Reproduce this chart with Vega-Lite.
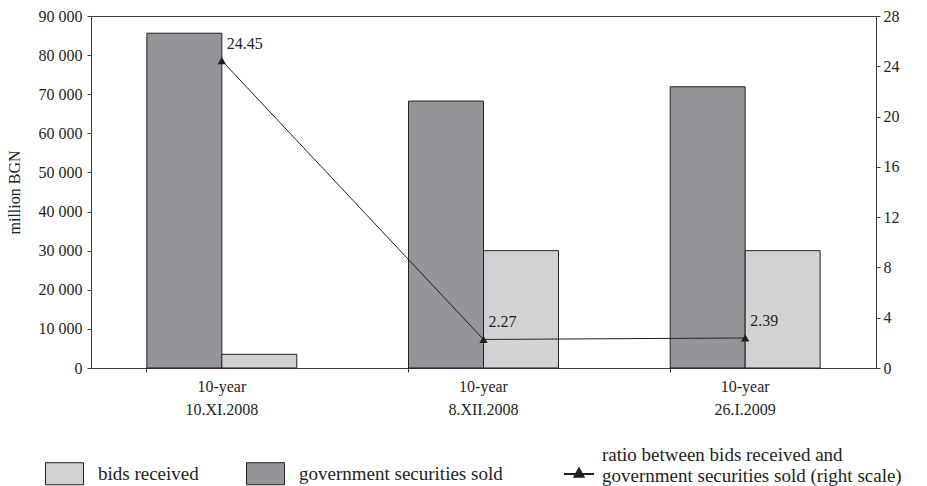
{
  "$schema": "https://vega.github.io/schema/vega-lite/v6.json",
  "width": 785,
  "height": 352,
  "autosize": {"type": "none"},
  "padding": {"left": 91, "top": 16, "right": 51, "bottom": 118},
  "background": "white",
  "config": {
    "font": "Liberation Serif",
    "view": {"stroke": "#3c3c3c", "strokeWidth": 1},
    "axis": {
      "labelFont": "Liberation Serif",
      "labelFontSize": 16,
      "labelColor": "#231f20",
      "domainColor": "#3c3c3c",
      "tickColor": "#3c3c3c",
      "grid": false,
      "titleFont": "Liberation Serif",
      "titleFontWeight": "normal",
      "titleFontSize": 16,
      "titleColor": "#231f20"
    },
    "legend": {
      "padding": 0,
      "labelFont": "Liberation Serif",
      "labelFontSize": 19,
      "labelColor": "#231f20",
      "labelLimit": 500
    }
  },
  "datasets": {
    "auctions": [
      {"auction": "10-year 10.XI.2008", "series": "government securities sold", "value": 85600},
      {"auction": "10-year 10.XI.2008", "series": "bids received", "value": 3500},
      {"auction": "10-year 8.XII.2008", "series": "government securities sold", "value": 68250},
      {"auction": "10-year 8.XII.2008", "series": "bids received", "value": 30000},
      {"auction": "10-year 26.I.2009", "series": "government securities sold", "value": 71900},
      {"auction": "10-year 26.I.2009", "series": "bids received", "value": 30000}
    ],
    "ratios": [
      {"auction": "10-year 10.XI.2008", "series": "ratio between bids received and government securities sold (right scale)", "ratio": 24.45},
      {"auction": "10-year 8.XII.2008", "series": "ratio between bids received and government securities sold (right scale)", "ratio": 2.27},
      {"auction": "10-year 26.I.2009", "series": "ratio between bids received and government securities sold (right scale)", "ratio": 2.39}
    ]
  },
  "layer": [
    {
      "data": {"name": "auctions"},
      "mark": {"type": "bar", "stroke": "#231f20", "strokeWidth": 1},
      "encoding": {
        "x": {
          "field": "auction",
          "type": "nominal",
          "sort": null,
          "scale": {"paddingInner": 0.427, "paddingOuter": 0.2135},
          "axis": {
            "title": null,
            "labelAngle": 0,
            "labelExpr": "split(datum.label, ' ')",
            "labelLineHeight": 23,
            "labelPadding": 6,
            "bandPosition": 0,
            "tickSize": 4
          }
        },
        "xOffset": {
          "field": "series",
          "type": "nominal",
          "scale": {"domain": ["government securities sold", "bids received"], "paddingInner": 0, "paddingOuter": 0}
        },
        "y": {
          "field": "value",
          "type": "quantitative",
          "scale": {"domain": [0, 90000]},
          "axis": {
            "title": "million BGN",
            "values": [0, 10000, 20000, 30000, 40000, 50000, 60000, 70000, 80000, 90000],
            "labelExpr": "replace(format(datum.value, ','), ',', ' ')",
            "tickSize": 4,
            "labelPadding": 5,
            "titleX": -69,
            "titleY": 176,
            "titleAngle": -90,
            "titleAlign": "center",
            "titleBaseline": "bottom"
          }
        },
        "fill": {
          "field": "series",
          "type": "nominal",
          "scale": {"domain": ["bids received", "government securities sold"], "range": ["#d1d2d4", "#939598"]},
          "legend": {
            "title": null,
            "orient": "none",
            "legendX": -46,
            "legendY": 438,
            "direction": "horizontal",
            "symbolType": "M-1,-0.58H1V0.58H-1Z",
            "symbolSize": 1444,
            "symbolStrokeColor": "#231f20",
            "symbolStrokeWidth": 1,
            "labelOffset": 14,
            "columnPadding": 45,
            "encode": {"symbols": {"update": {"stroke": {"value": "#231f20"}, "strokeWidth": {"value": 1}}}}
          }
        }
      }
    },
    {
      "data": {"name": "ratios"},
      "encoding": {
        "x": {"field": "auction", "type": "nominal", "sort": null},
        "y": {
          "field": "ratio",
          "type": "quantitative",
          "scale": {"domain": [0, 28]},
          "axis": {
            "orient": "right",
            "title": null,
            "values": [0, 4, 8, 12, 16, 20, 24, 28],
            "tickSize": 4,
            "labelPadding": 3
          }
        }
      },
      "layer": [
        {
          "mark": {"type": "line", "strokeWidth": 1},
          "encoding": {
            "stroke": {
              "field": "series",
              "type": "nominal",
              "scale": {"range": ["#231f20"]},
              "legend": {
                "title": null,
                "orient": "none",
                "legendX": 472,
                "legendY": 442,
                "symbolType": "M-1,0H1M-0.3,0.18L0,-0.36L0.3,0.18Z",
                "symbolSize": 900,
                "symbolStrokeWidth": 2,
                "symbolFillColor": "#231f20",
                "labelOffset": 7,
                "labelLineHeight": 20,
                "labelExpr": "[slice(datum.label, 0, 31), slice(datum.label, 32)]",
                "encode": {
                  "symbols": {"update": {"fill": {"value": "#231f20"}, "stroke": {"value": "#231f20"}, "strokeWidth": {"value": 2}}},
                  "labels": {"update": {"dy": {"value": -19}}}
                }
              }
            }
          }
        },
        {
          "mark": {"type": "point", "shape": "triangle-up", "filled": true, "size": 70, "color": "#231f20", "opacity": 1}
        },
        {
          "mark": {"type": "text", "align": "left", "baseline": "middle", "dx": 5, "dy": -17, "fontSize": 16, "color": "#231f20"},
          "encoding": {"text": {"field": "ratio", "type": "quantitative", "format": ".2f"}}
        }
      ]
    }
  ],
  "resolve": {"scale": {"y": "independent"}}
}
